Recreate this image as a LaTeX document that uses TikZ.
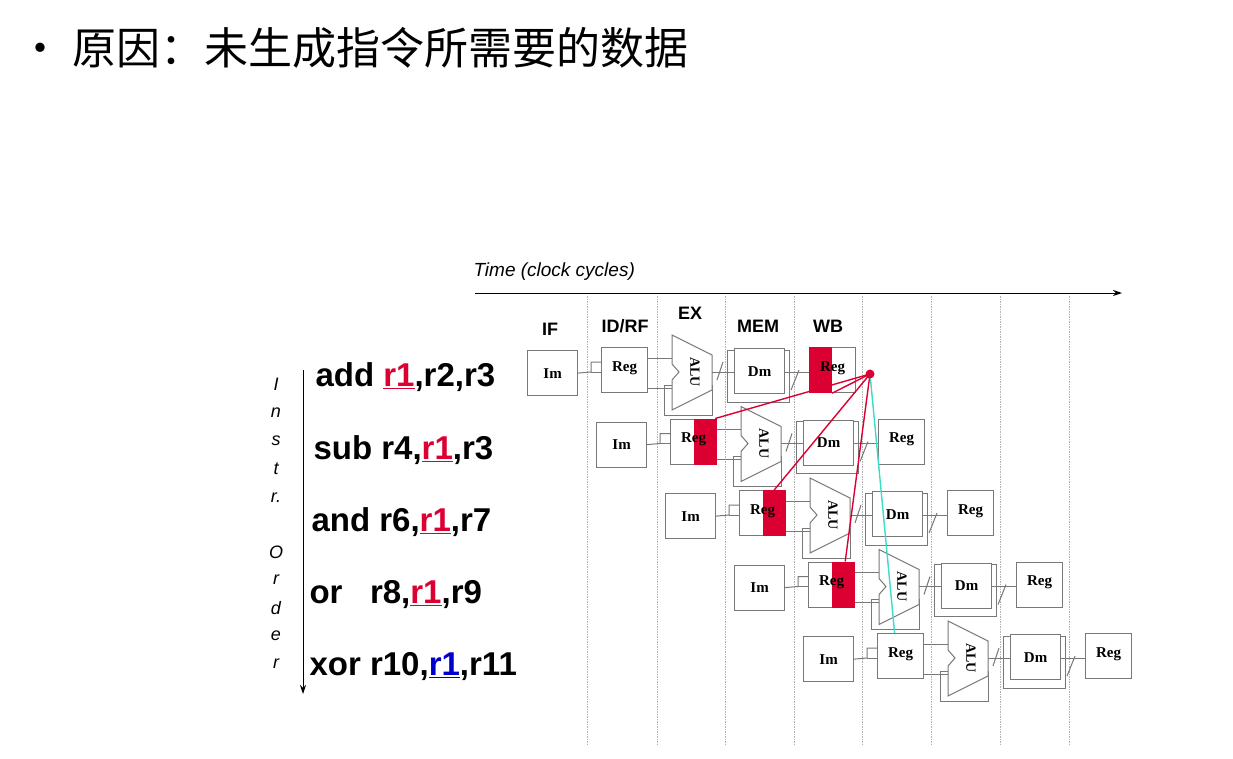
\documentclass[tikz,border=0pt]{standalone}
\usepackage{fontspec}
\setmainfont{Liberation Serif}
\setsansfont{Liberation Sans}
\newfontfamily\cjk{Noto Sans CJK SC}
\usetikzlibrary{arrows.meta,calc}
\definecolor{hz}{RGB}{220,0,50}
\definecolor{gline}{RGB}{120,120,120}
\definecolor{cy}{RGB}{60,220,200}
\begin{document}
\begin{tikzpicture}[x=1pt,y=-1pt,
  box/.style={draw=gline,line width=1.2pt,minimum width=50pt,minimum height=45pt,inner sep=0pt,font=\bfseries\fontsize{15}{15}\selectfont},
  regbox/.style={box,minimum width=46pt},
  wire/.style={draw=gline,line width=1pt},
  stage/.style={font=\sffamily\bfseries\fontsize{18}{18}\selectfont},
  instr/.style={anchor=west,font=\sffamily\bfseries\fontsize{33}{33}\selectfont},
  hline/.style={draw=hz,line width=1.4pt}]
\useasboundingbox (0,0) rectangle (1233,758);
\node[anchor=west,font=\cjk\fontsize{44}{44}\selectfont,inner sep=0pt] (title) at (18,48) {• 原因：未生成指令所需要的数据};
% time axis
\node[anchor=west,font=\sffamily\itshape\fontsize{19}{19}\selectfont] (time) at (470,272) {Time (clock cycles)};
\coordinate (ta) at (475,293); \coordinate (tb) at (1122,293);
\draw[line width=1pt,-{Stealth[length=9pt,width=6pt]}] (ta) -- (tb);
\foreach \x in {587,657,725,794,862,931,1000,1069}
  \draw[gray!60,line width=1pt,dash pattern=on 1.5pt off 1pt] (\x,296) -- (\x,745);
% stage labels
\node[stage] (sIF) at (550,329) {IF};
\node[stage] (sID) at (625,326) {ID/RF};
\node[stage] (sEX) at (690,313) {EX};
\node[stage] (sMEM) at (758,326) {MEM};
\node[stage] (sWB) at (828,326) {WB};
% instr order axis
\coordinate (oa) at (303,370); \coordinate (ob) at (303,694);
\draw[line width=1pt,-{Stealth[length=9pt,width=6pt]}] (oa) -- (ob);
\foreach \c/\y in {I/384,n/413,s/441,t/469,r./498,O/552,r/580,d/608,e/636,r/664}
  \node[font=\sffamily\itshape\fontsize{18}{18}\selectfont] at (276,\y) {\c};
% instructions
\node[instr] (i0) at (312,377) {add \textcolor{hz}{\underline{r1}},r2,r3};
\node[instr] (i1) at (310,450) {sub r4,\textcolor{hz}{\underline{r1}},r3};
\node[instr] (i2) at (308,522) {and r6,\textcolor{hz}{\underline{r1}},r7};
\node[instr] (i3) at (306,595) {or\ \ \ r8,\textcolor{hz}{\underline{r1}},r9};
\node[instr] (i4) at (306,667) {xor r10,\textcolor{blue!80!black}{\underline{r1}},r11};
% pipeline rows
\foreach \i in {0,...,4}{
  \pgfmathsetmacro{\dx}{527+69*\i}
  \pgfmathsetmacro{\dy}{350+71.5*\i}
  \begin{scope}[shift={(\dx,\dy)}]
    \draw[gline,line width=1pt] (137,35) rectangle (185,65);
    \draw[gline,line width=1pt] (200,0) rectangle (262,52);
    \node[box,fill=white,anchor=north west] (im\i) at (0,0) {Im};
    \node[regbox,fill=white,anchor=north west] (rg\i) at (74,-3) {};
    \node[box,fill=white,anchor=north west] (dm\i) at (207,-2) {};
    \node[regbox,fill=white,anchor=north west] (wb\i) at (282,-3) {};
    \coordinate (a1) at (145,-15); \coordinate (a2) at (185,5); \coordinate (a3) at (185,40);
    \coordinate (a4) at (145,60); \coordinate (a5) at (145,30); \coordinate (a6) at (152,22); \coordinate (a7) at (145,14);
    \draw[gline,line width=1pt,fill=white] (a1) -- (a2) -- (a3) -- (a4) -- (a5) -- (a6) -- (a7) -- cycle;
    \node[rotate=-90,font=\bfseries\fontsize{14}{14}\selectfont] (alu\i) at (168,22) {ALU};
    \draw[wire] (im\i.east) -- (64,22) -- (64,12) -- (rg\i.west|-0,12);
    \draw[wire] (64,22) -- (rg\i.west|-0,22);
    \draw[wire] (rg\i.east|-0,8) -- (145,8);
    \draw[wire] (rg\i.east|-0,38) -- (145,38);
    \draw[wire] (185,22) -- (dm\i.west|-0,22);
    \draw[wire] (190,30) -- (196,12);
    \draw[wire] (dm\i.east|-0,22) -- (wb\i.west|-0,22);
    \draw[wire] (264,40) -- (272,20);
  \end{scope}}
% red shading
\fill[hz] (wb0.north west) rectangle ($(wb0.south west)+(23,0)$);
\foreach \i in {1,2,3} \fill[hz] ($(rg\i.north east)+(-23,0)$) rectangle (rg\i.south east);
\foreach \i in {0,...,4}{
  \node[font=\bfseries\fontsize{15}{15}\selectfont] at ($(rg\i)+(0,-2)$) {Reg};
  \node[font=\bfseries\fontsize{15}{15}\selectfont] at ($(wb\i)+(0,-2)$) {Reg};
  \node[font=\bfseries\fontsize{15}{15}\selectfont] at (dm\i) {Dm};
}
% hazard lines
\coordinate (dot) at (870,374);
\draw[hline] (dot) -- ($(wb0.south west)+(23,0)$);
\draw[hline] (dot) -- ($(rg1.north east)+(-2,0)$);
\draw[hline] (dot) -- ($(rg2.north east)+(-12,0)$);
\draw[hline] (dot) -- ($(rg3.north east)+(-10,0)$);
\draw[cy,line width=1.4pt] (dot) -- ($(rg4.north)+(-6,0)$);
\fill[hz] (dot) circle (4.5);
\end{tikzpicture}
\end{document}
